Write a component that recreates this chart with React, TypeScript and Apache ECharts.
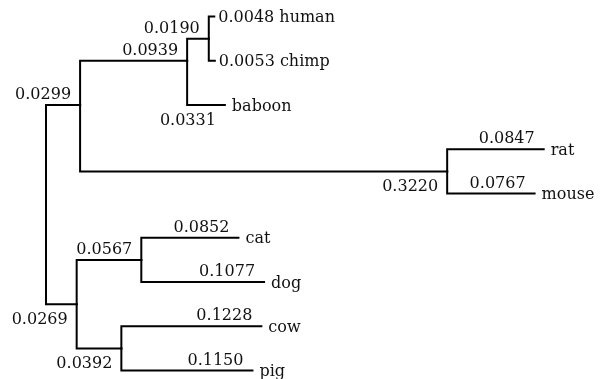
import React, { useEffect, useRef } from "react";
import * as echarts from "echarts";

// Tree nodes in depth-first order (parents come before their children)
const nodeNames = ["root", "n1", "n2", "n3", "human", "chimp", "baboon", "n7", "rat", "mouse", "n10", "n11", "cat", "dog", "n14", "cow", "pig"];
const nodeParents = [-1, 0, 1, 2, 3, 3, 2, 1, 7, 7, 0, 10, 11, 11, 10, 14, 14];
const branchLengths = [0, 0.0299, 0.0939, 0.019, 0.0048, 0.0053, 0.0331, 0.322, 0.0847, 0.0767, 0.0269, 0.0567, 0.0852, 0.1077, 0.0392, 0.1228, 0.115];

function layoutTree() {
  const n = nodeNames.length;
  const children: number[][] = nodeNames.map(() => []);
  nodeParents.forEach((p, i) => { if (p >= 0) children[p].push(i); });
  const xs = new Array(n).fill(0);
  for (let i = 0; i < n; i++) {
    const p = nodeParents[i];
    xs[i] = p >= 0 ? xs[p] + branchLengths[i] : 0;
  }
  const sum = new Array(n).fill(0);
  const cnt = new Array(n).fill(0);
  let leaf = 0;
  for (let i = 0; i < n; i++) {
    if (children[i].length === 0) { sum[i] = leaf; cnt[i] = 1; leaf++; }
  }
  for (let i = n - 1; i > 0; i--) {
    const p = nodeParents[i];
    sum[p] += sum[i];
    cnt[p] += cnt[i];
  }
  const ys = sum.map((s, i) => s / cnt[i]);
  return { children, xs, ys, leafCount: leaf };
}

export default function App() {
  const ref = useRef<HTMLDivElement>(null);
  useEffect(() => {
    if (!ref.current) return;
    const chart = echarts.init(ref.current, null, { renderer: "svg" });
    const { children, xs, ys, leafCount } = layoutTree();
    const items: number[] = [];
    for (let i = 1; i < nodeNames.length; i++) items.push(i);
    const font = "DejaVu Serif";
    const textColor = "#111";
    const fontSize = 16;

    const renderItem = (params: any, api: any) => {
      const i = items[params.dataIndex];
      const p = nodeParents[i];
      const a = api.coord([xs[p], ys[p]]);
      const b = api.coord([xs[p], ys[i]]);
      const c = api.coord([xs[i], ys[i]]);
      const isLeaf = children[i].length === 0;
      const label = branchLengths[i].toFixed(4);
      const branchPx = c[0] - b[0];
      const els: any[] = [
        {
          type: "polyline",
          shape: { points: [a, b, c] },
          style: { stroke: "#000", lineWidth: 2, fill: null, lineCap: "square", lineJoin: "miter" },
        },
      ];
      const txt = (s: string, x: number, y: number, align: string) => ({
        type: "text",
        x,
        y,
        style: { text: s, fill: textColor, font: `${fontSize}px "${font}"`, align, verticalAlign: "middle" },
      });
      const first = children[p][0] === i;
      const above = first || (isLeaf && branchPx > 70);
      if (isLeaf && branchPx < 20) {
        els.push(txt(`${label} ${nodeNames[i]}`, c[0] + 4, c[1], "left"));
      } else {
        els.push(txt(label, c[0] - 9, above ? c[1] - 11.5 : c[1] + 14, "right"));
        if (isLeaf) els.push(txt(nodeNames[i], c[0] + 7, c[1], "left"));
      }
      return { type: "group", children: els };
    };

    chart.setOption({
      animation: false,
      grid: { left: 46, right: 0, top: 16.5, bottom: 8.5 },
      xAxis: { type: "value", min: 0, max: 554 / 1140, show: false },
      yAxis: { type: "value", min: 0, max: leafCount - 1, inverse: true, show: false },
      series: [
        {
          type: "custom",
          silent: true,
          clip: false,
          renderItem,
          data: items.map((i) => [xs[i], ys[i]]),
        },
      ],
    });
    return () => chart.dispose();
  }, []);
  return <div ref={ref} style={{ position: "fixed", left: 0, top: 0, width: 600, height: 379 }} />;
}
